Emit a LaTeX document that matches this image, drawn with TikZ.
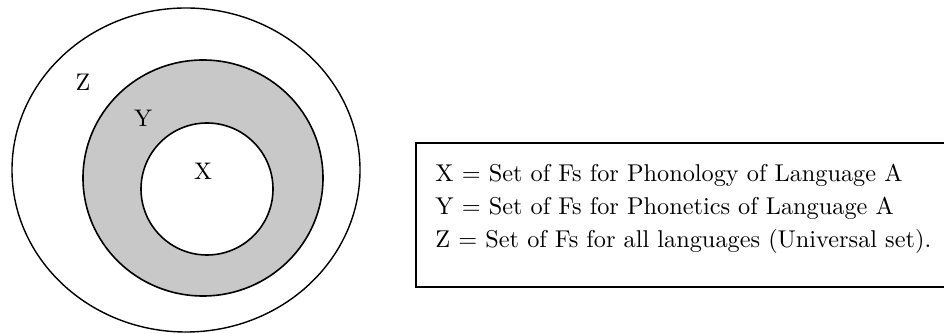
\documentclass[tikz,border=0pt]{standalone}
\usepackage{tikz}
\definecolor{ringgray}{RGB}{200,200,200}
\begin{document}
\begin{tikzpicture}[x=1pt,y=1pt,
  ring/.style={draw=black,line width=1.6pt},
  lbl/.style={inner sep=0pt,scale=2.4,transform shape,font=\fontsize{10}{12}\selectfont},
  legend/.style={inner sep=0pt,anchor=base west,scale=2.43,transform shape,font=\fontsize{10}{12}\selectfont}]
\useasboundingbox (0,0) rectangle (944,334);
% outer set Z
\draw[ring,line width=1.4pt] (186,164) ellipse [x radius=174,y radius=162];
% set Y (grey ring)
\draw[ring,fill=ringgray] (203,156) ellipse [x radius=120,y radius=118];
% set X
\draw[ring,fill=white] (207,145) ellipse [x radius=66,y radius=66];
\node[lbl] (z) at (83,252) {Z};
\node[lbl] (y) at (143,216) {Y};
\node[lbl] (x) at (203,163) {X};
% legend box (right side open at the picture edge)
\draw[line width=1.6pt] (944,191) -- (416,191) -- (416,47) -- (944,47);
\node[legend] (lx) at (435,152) {X = Set of Fs for Phonology of Language A};
\node[legend] (ly) at (435,119) {Y = Set of Fs for Phonetics of Language A};
\node[legend] (lz) at (435,86) {Z = Set of Fs for all languages (Universal set).};
\end{tikzpicture}
\end{document}
